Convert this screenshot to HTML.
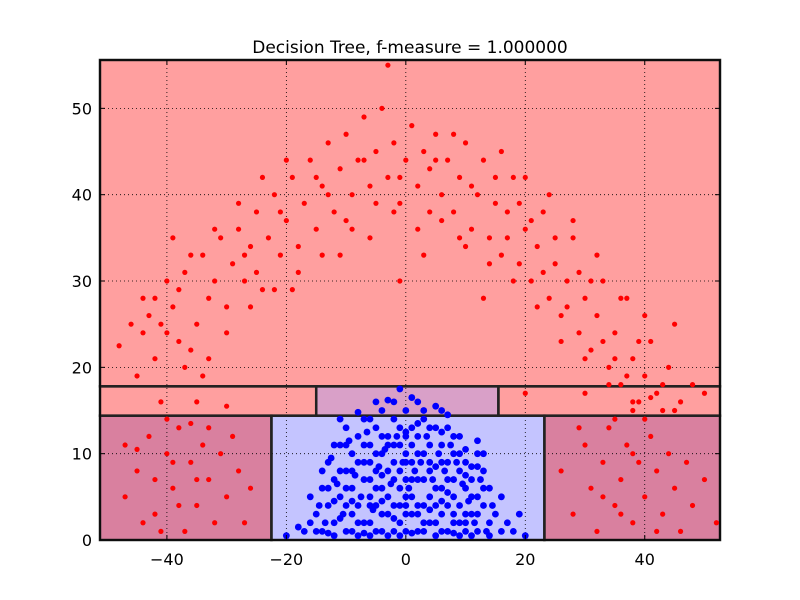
<!DOCTYPE html>
<html><head><meta charset="utf-8"><style>
body{margin:0;background:#fff;}
svg{display:block;font-family:"DejaVu Sans","Liberation Sans",sans-serif;}
</style></head><body>
<svg id="chart" width="800" height="600" viewBox="0 0 800 600">
<rect width="800" height="600" fill="#fff"/>
<text x="410" y="53" font-size="17" text-anchor="middle" fill="#000">Decision Tree, f-measure = 1.000000</text>
<g id="regions"></g><g id="grid"></g><g id="borders"></g><g id="pts"></g><g id="axes"></g>
</svg>
<script>
const xTicks=[-40,-20,0,20,40];
const yTicks=[0,10,20,30,40,50];
const regions=[
 [-51.2,52.6,17.8,55.6,"#ff9f9f"],
 [-51.2,-15,14.4,17.8,"#ff9f9f"],
 [15.5,52.6,14.4,17.8,"#ff9f9f"],
 [-15,15.5,14.4,17.8,"#d9a0c8"],
 [-51.2,-22.5,0,14.4,"#d9809f"],
 [-22.5,23.2,0,14.4,"#c4c4ff"],
 [23.2,52.6,0,14.4,"#d9809f"]
];
const redPts=[[-48,22.5],[-46,25],[-44,24],[-43,26],[-42,28],[-41,25],[-40,24],[-39,27],[-38,29],[-37,31],[-36,22],[-35,25],[-34,33],[-33,21],[-32,30],[-31,35],[-30,27],[-29,32],[-28,36],[-27,30],[-26,34],[-25,38],[-24,29],[-23,35],[-22,40],[-21,33],[-20,37],[-19,42],[-18,31],[-17,39],[-16,44],[-15,36],[-14,41],[-13,46],[-12,38],[-11,43],[-10,47],[-9,40],[-8,44],[-7,49],[-6,41],[-5,45],[-4,50],[-3,42],[-2,46],[-1,39],[0,44],[1,48],[2,41],[3,45],[4,43],[5,47],[6,40],[7,44],[8,38],[9,42],[10,46],[11,36],[12,40],[13,44],[14,35],[15,39],[16,33],[17,38],[18,42],[19,32],[20,36],[21,30],[22,34],[23,38],[24,28],[25,32],[26,26],[27,30],[28,35],[29,24],[30,28],[31,22],[32,26],[33,30],[34,20],[35,24],[36,18],[37,28],[38,21],[39,16],[40,19],[41,23],[42,17],[43,15],[44,20],[45,25],[46,16],[48,18],[50,17],[-45,19],[-42,21],[-38,23],[-34,19],[-30,24],[-26,27],[-22,29],[-18,34],[-14,33],[-10,37],[-6,35],[-2,38],[2,36],[6,37],[10,34],[14,32],[18,30],[22,27],[26,23],[30,21],[34,18],[38,16],[-40,30],[-36,33],[-32,36],[-28,39],[-24,42],[-20,44],[16,45],[20,42],[24,40],[28,37],[32,33],[36,28],[40,26],[-3,55],[8,47],[-13,40],[13,28],[-1,30],[3,33],[-35,16],[-30,15.5],[-41,16],[20,17],[30,17],[38,15],[45,15],[-39,35],[-33,28],[-27,33],[-21,38],[-15,42],[-9,36],[-5,39],[4,38],[9,35],[15,42],[19,39],[23,31],[27,27],[31,30],[35,21],[39,23],[43,18],[-44,28],[-37,20],[-25,31],[-19,29],[-11,33],[-7,44],[-1,42],[5,44],[11,41],[17,35],[21,37],[25,35],[29,31],[33,23],[37,19],[41,16.5],
[-47,5],[-45,8],[-43,12],[-42,3],[-40,10],[-39,6],[-38,13],[-37,1],[-36,9],[-35,4],[-34,11],[-33,7],[-32,2],[-31,10],[-30,5],[-29,12],[-28,8],[-41,1],[-44,2],[-38,4],[-36,13.5],[-40,14],[-33,13],[-45,10.5],[-47,11],[-26,6],[-27,2],[-39,9],[-35,7],[-42,7],
[26,8],[28,3],[30,11],[31,6],[32,1],[33,9],[34,13],[35,4],[36,7],[37,11],[38,2],[39,9],[40,5],[41,12],[42,8],[43,3],[44,10],[45,6],[46,1],[47,9],[48,4],[50,7],[52,2],[35,14],[40,14],[38,10],[36,3],[42,1],[33,5],[29,13]];
const bluePts=[[-15,3],[-14,6],[-14,1],[-13,9],[-13,4],[-12,7],[-12,2],[-11,11],[-11,5],[-10,8],[-10,1],[-10,13],[-9,3],[-9,10],[-9,6],[-8,0.5],[-8,12],[-8,4],[-7,7],[-7,2],[-7,14],[-6,9],[-6,5],[-6,11],[-5,1],[-5,8],[-5,13],[-4,3],[-4,10],[-4,6],[-3,12],[-3,0.5],[-3,8],[-2,4],[-2,14],[-2,9],[-1,6],[-1,11],[-1,2],[0,15],[0,7],[0,10],[0,3],[1,13],[1,5],[1,9],[2,12],[2,1],[2,7],[3,10],[3,4],[3,14],[4,8],[4,2],[4,11],[5,6],[5,13],[5,0.5],[6,9],[6,3],[6,11],[7,7],[7,1],[7,13],[8,5],[8,10],[8,2],[9,8],[9,4],[9,12],[10,1],[10,6],[10,9],[11,3],[11,7],[12,5],[12,1],[12,10],[13,4],[13,8],[14,2],[14,6],[15,3],[16,1],[17,2],[18,1],[-16,2],[-17,1],[-1,17.5],[-2,16],[1,16.5],[3,15],[-4,15],[-5,16],[6,15],[-8,14.8],[-11,14],[5,15.5],[0,12],[-1,8],[1,3],[-3,5],[2,10],[4,5],[-6,2],[7,4],[-9,1],[9,0.5],[-12,4.5],[11,0.5],[0,5],[-2,1],[3,7],[-5,10],[6,6],[-7,9],[8,7],[-4,12],[2,4],[-1,13],[4,9],[-3,3],[1,11],[-10,4],[10,3],[0,1],[5,4],[-6,7],
[-14.5,4],[-13.5,2],[-12.5,9.5],[-11.5,6.5],[-10.5,3],[-9.5,11.5],[-8.5,7.5],[-7.5,5],[-6.5,12.5],[-5.5,3.5],[-4.5,8.5],[-3.5,10.5],[-2.5,6.5],[-1.5,12],[-0.5,9],[0.5,6],[1.5,8],[2.5,9],[3.5,12],[4.5,7],[5.5,10],[6.5,8],[7.5,11],[8.5,9],[9.5,6.5],[10.5,4.5],[11.5,2],[12.5,7],[13.5,1],[14.5,4],[-13,6],[-12,11],[-11,2.5],[-10,6],[-9,8],[-8,2],[-7,11],[-6,4],[-5,6],[-4,1],[-3,11],[-2,7],[-1,4],[0,9],[1,7],[2,3],[3,2],[4,13],[5,2],[6,1],[7,9],[8,3],[9,2],[10,7.5],[11,5],[12,3],[13,6],[-15,1],[-12,0.5],[-9,4.5],[-6,0.5],[-4,4.5],[-2,11],[0,12.5],[2,13.5],[4,3.5],[6,4.5],[8,12],[10,10.5],[12,8.5],[14,0.5],[-16,5],[-18,1.5],[-20,0.5],[16,5],[19,3],[20,0.5],[-3,16.2],[2,16],[-6,14],[7,14.5],[-10,11],[-8,9],[-5,4],[-1,0.5],[3,1],[7,5.5],[9,10],[11,8.5],[-11,8],[-14,8],[13,10],[-2,2.5],[0,4],[1,0.8],[5,8.5],[6,12.5],[-7,0.8],[-4,7.5],[8,0.8],[10,2],[-13,0.8],[12,11.5]];

const X0=-51.2,X1=52.6,Y0=0,Y1=55.6,PL=100,PR=720,PT=60,PB=540;
const sx=v=>PL+(v-X0)/(X1-X0)*(PR-PL);
const sy=v=>PB-(v-Y0)/(Y1-Y0)*(PB-PT);
const NS="http://www.w3.org/2000/svg";
function mk(tag,attrs,parent){const e=document.createElementNS(NS,tag);for(const k in attrs)e.setAttribute(k,attrs[k]);document.getElementById(parent).appendChild(e);return e;}
regions.forEach(r=>{
 const e=mk("rect",{x:sx(r[0]),y:sy(r[3]),width:sx(r[1])-sx(r[0]),height:sy(r[2])-sy(r[3]),fill:r[4]},"regions");
 
 
 const b=mk("rect",{x:sx(r[0]),y:sy(r[3]),width:sx(r[1])-sx(r[0]),height:sy(r[2])-sy(r[3]),fill:"none",stroke:"#222",'stroke-width':2.5},"borders");
 
 
});
xTicks.forEach(t=>{
 const g=mk("line",{x1:sx(t),x2:sx(t),y1:PT,y2:PB,stroke:"#000",'stroke-width':0.8,'stroke-dasharray':"1,3"},"grid");
 
 
 mk("line",{x1:sx(t),x2:sx(t),y1:PB,y2:PB-5,stroke:"#000"},"axes");
 mk("line",{x1:sx(t),x2:sx(t),y1:PT,y2:PT+5,stroke:"#000"},"axes");
 const l=mk("text",{x:sx(t),y:PB+25,'font-size':16,'text-anchor':"middle"},"axes");
 l.textContent=(t<0?"\u2212"+(-t):t);
 
 
});
yTicks.forEach(t=>{
 const g=mk("line",{x1:PL,x2:PR,y1:sy(t),y2:sy(t),stroke:"#000",'stroke-width':0.8,'stroke-dasharray':"1,3"},"grid");
 
 
 mk("line",{x1:PL,x2:PL+5,y1:sy(t),y2:sy(t),stroke:"#000"},"axes");
 mk("line",{x1:PR,x2:PR-5,y1:sy(t),y2:sy(t),stroke:"#000"},"axes");
 const l=mk("text",{x:PL-8,y:sy(t)+6,'font-size':16,'text-anchor':"end"},"axes");
 l.textContent=t;
 
 
});
redPts.forEach(p=>{
 const c=mk("circle",{cx:sx(p[0]),cy:sy(p[1]),r:2.6,fill:"#f00"},"pts");
 
 
});
bluePts.forEach(p=>{
 const c=mk("circle",{cx:sx(p[0]),cy:sy(p[1]),r:3.4,fill:"#00f"},"pts");
 
 
});
const fr=mk("rect",{x:PL,y:PT,width:PR-PL,height:PB-PT,fill:"none",stroke:"#000",'stroke-width':1.2},"axes");


</script>
</body></html>
